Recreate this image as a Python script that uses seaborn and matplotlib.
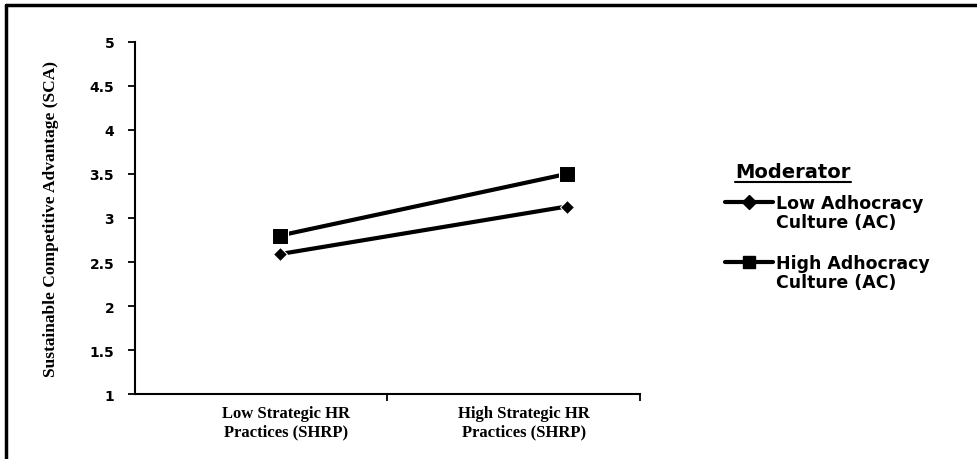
import pandas as pd
import numpy as np
import matplotlib.pyplot as plt
import seaborn as sns
from matplotlib.lines import Line2D

# data
categories = ["Low Strategic HR\nPractices (SHRP)", "High Strategic HR\nPractices (SHRP)"]
groups = ["Low Adhocracy\nCulture (AC)", "High Adhocracy\nCulture (AC)"]
low_ac = [2.59, 3.13]
high_ac = [2.80, 3.50]
y_ticks = [1, 1.5, 2, 2.5, 3, 3.5, 4, 4.5, 5]
y_tick_labels = ["1", "1.5", "2", "2.5", "3", "3.5", "4", "4.5", "5"]

df = pd.DataFrame({
    "x": [0, 1, 0, 1],
    "SCA": low_ac + high_ac,
    "Moderator": [groups[0]] * 2 + [groups[1]] * 2,
})

sns.set_style("white")
plt.rcParams["font.family"] = ["DejaVu Sans"]
plt.rcParams["text.color"] = "black"
plt.rcParams["axes.labelcolor"] = "black"
plt.rcParams["xtick.color"] = "black"
plt.rcParams["ytick.color"] = "black"
serif = ["Liberation Serif", "DejaVu Serif"]

fig = plt.figure(figsize=(9.78, 4.60), dpi=100)
ax = fig.add_axes([0.138, 0.141, 0.516, 0.766])

sns.lineplot(data=df, x="x", y="SCA", hue="Moderator", style="Moderator",
             palette=["black", "black"], markers={groups[0]: "D", groups[1]: "s"},
             dashes=False, linewidth=3, markersize=9, legend=False, ax=ax)
# diamond a bit smaller than square
for line, ms in zip(ax.lines, [7, 12]):
    line.set_markersize(ms)

ax.set_xlim(-0.505, 1.254)
ax.set_ylim(1, 5)
ax.set_yticks(y_ticks)
ax.set_yticklabels(y_tick_labels, fontsize=10, fontweight="bold")
ax.set_xticks([0.02, 0.85])
ax.set_xticklabels(categories, fontsize=12, fontweight="bold",
                   family=serif, linespacing=1.15)
ax.set_xticks([0.373, 1.254], minor=True)
ax.tick_params(axis="x", which="major", length=0, pad=8)
ax.tick_params(axis="x", which="minor", length=5, width=1.3, direction="out", bottom=True)
ax.tick_params(axis="y", length=5, width=1.3, direction="out", left=True, pad=10)
ax.set_xlabel("")
ax.set_ylabel("Sustainable Competitive Advantage (SCA)", fontsize=12.5, fontweight="bold",
              family=serif, labelpad=22)
sns.despine(ax=ax)
for s in ["left", "bottom"]:
    ax.spines[s].set_linewidth(1.5)
    ax.spines[s].set_color("black")

# legend, drawn by hand so the key sits on the first text line
for i, (g, m, ms) in enumerate(zip(groups, ["D", "s"], [7, 9])):
    y = 0.559 - i * 0.13
    fig.add_artist(Line2D([0.741, 0.766, 0.790], [y, y, y], color="black", lw=3,
                          marker=m, markersize=ms, markevery=[1],
                          transform=fig.transFigure))
    fig.text(0.793, y + 0.017, g, fontsize=12.5, fontweight="bold", va="top",
             linespacing=1.05)
t = fig.text(0.752, 0.626, "Moderator", fontsize=14, fontweight="bold", va="center")
fig.canvas.draw()
bb = t.get_window_extent().transformed(fig.transFigure.inverted())
fig.add_artist(Line2D([bb.x0, bb.x1], [bb.y0 - 0.003, bb.y0 - 0.003],
                      color="black", lw=1.5, transform=fig.transFigure))

# page frame of the scanned figure
fig.add_artist(Line2D([0.006, 0.006], [0.0, 0.988], color="black", lw=2.5,
                      transform=fig.transFigure))
fig.add_artist(Line2D([0.006, 1.0], [0.988, 0.988], color="black", lw=2.5,
                      transform=fig.transFigure))

fig.savefig("out.png", dpi=100)
plt.close()
